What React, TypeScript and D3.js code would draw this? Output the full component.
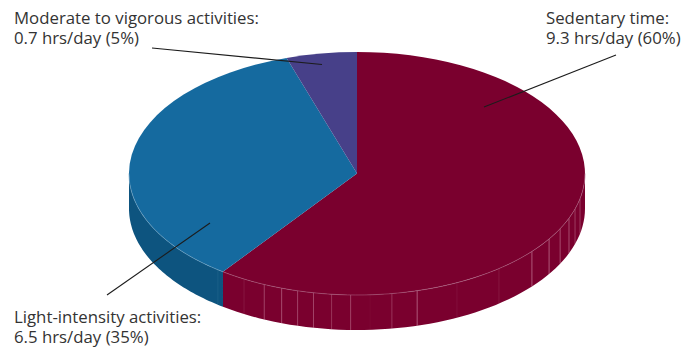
import React from "react";
import * as d3 from "d3";

const categories = ["Sedentary time", "Light-intensity activities", "Moderate to vigorous activities"];
const hoursPerDay = ["9.3", "6.5", "0.7"];
const shares = [60, 35, 5];
const topColors = ["#7a002e", "#156a9f", "#474089"];
const sideColors = ["#7a002e", "#0d547f", "#474089"];
const rimColors = ["#a85a7c", "#6ea3c4", "#474089"];

// Facet seams on the outer wall of the disc: angle clockwise from 12 o'clock (degrees), seam strength.
const seamAngles = [102, 107, 111.6, 117, 122.6, 129.9, 141.5, 154, 164.7, 171.2, 176.7, 181.6, 186.4, 191, 195.1, 199.3, 204, 209.7, 217.6];
const seamStrengths = [0.4, 0.4, 0.5, 0.5, 0.6, 0.6, 0.15, 0.1, 0.6, 0.35, 0.05, 0.45, 0.35, 0.45, 0.45, 0.5, 0.45, 0.15, 0.2];

const width = 682;
const height = 348;
const cx = 357;
const cy = 173.5;
const rx = 228;
const ry = 121.5;
const depth = 35;

const FONT = "'Open Sans', sans-serif";

const arcs = d3.pie<number>().sort(null)(shares);
const arcPath = d3.arc<d3.PieArcDatum<number>>().innerRadius(0).outerRadius(1);

const px = (a: number) => cx + rx * Math.sin(a);
const py = (a: number) => cy - ry * Math.cos(a);

// Wall of the disc between two angles, limited to the half facing the viewer.
function wallPath(a0: number, a1: number): string | null {
  const lo = Math.max(a0, Math.PI / 2);
  const hi = Math.min(a1, (3 * Math.PI) / 2);
  if (hi <= lo) return null;
  const steps = d3.range(0, 61).map((i) => lo + ((hi - lo) * i) / 60);
  const top = steps.map((a) => [px(a), py(a)] as [number, number]);
  const bottom = steps.slice().reverse().map((a) => [px(a), py(a) + depth] as [number, number]);
  return d3.line()([...top, ...bottom]) + "Z";
}

function rimPath(a0: number, a1: number): string | null {
  const lo = Math.max(a0, Math.PI / 2);
  const hi = Math.min(a1, (3 * Math.PI) / 2);
  if (hi <= lo) return null;
  const steps = d3.range(0, 61).map((i) => lo + ((hi - lo) * i) / 60);
  return d3.line()(steps.map((a) => [px(a), py(a)] as [number, number]));
}

const leaders = [
  { x1: 616, y1: 55, x2: 484, y2: 107 },
  { x1: 107, y1: 295, x2: 210, y2: 223 },
  { x1: 152, y1: 48, x2: 322, y2: 64.5 },
];

const labels = [
  { y: 24, tx: 546 },
  { y: 323, tx: 14 },
  { y: 24, tx: 14 },
];

export default function App() {
  return (
    <svg
      width={width}
      height={height}
      viewBox={`0 0 ${width} ${height}`}
      style={{ position: "absolute", left: 0, top: 0, background: "#fff" }}
    >
      {arcs.map((d, i) => {
        const wall = wallPath(d.startAngle, d.endAngle);
        return wall ? <path key={i} d={wall} fill={sideColors[i]} /> : null;
      })}
      {seamAngles.map((deg, i) => {
        const a = (deg * Math.PI) / 180;
        const isBlue = a > arcs[0].endAngle;
        return (
          <line
            key={deg}
            x1={px(a)}
            x2={px(a)}
            y1={py(a)}
            y2={py(a) + depth}
            stroke={isBlue ? "#5f98bb" : "#e8b8cc"}
            strokeOpacity={seamStrengths[i]}
            strokeWidth={0.8}
          />
        );
      })}
      <g transform={`translate(${cx},${cy}) scale(${rx},${ry})`}>
        {arcs.map((d, i) => (
          <path key={i} d={arcPath(d) as string} fill={topColors[i]} />
        ))}
      </g>
      {arcs.map((d, i) => {
        const rim = rimPath(d.startAngle, d.endAngle);
        return rim ? (
          <path key={i} d={rim} fill="none" stroke={rimColors[i]} strokeWidth={0.6} />
        ) : null;
      })}
      {leaders.map((l, i) => (
        <line key={i} {...l} stroke="#1c1c1c" strokeWidth={1.1} />
      ))}
      {categories.map((name, i) => (
        <text
          key={name}
          x={labels[i].tx}
          y={labels[i].y}
          fontFamily={FONT}
          fontSize={16.8}
          fill="#333"
        >
          <tspan x={labels[i].tx}>{name}:</tspan>
          <tspan x={labels[i].tx} dy={20.3}>
            {hoursPerDay[i]} hrs/day ({shares[i]}%)
          </tspan>
        </text>
      ))}
    </svg>
  );
}
